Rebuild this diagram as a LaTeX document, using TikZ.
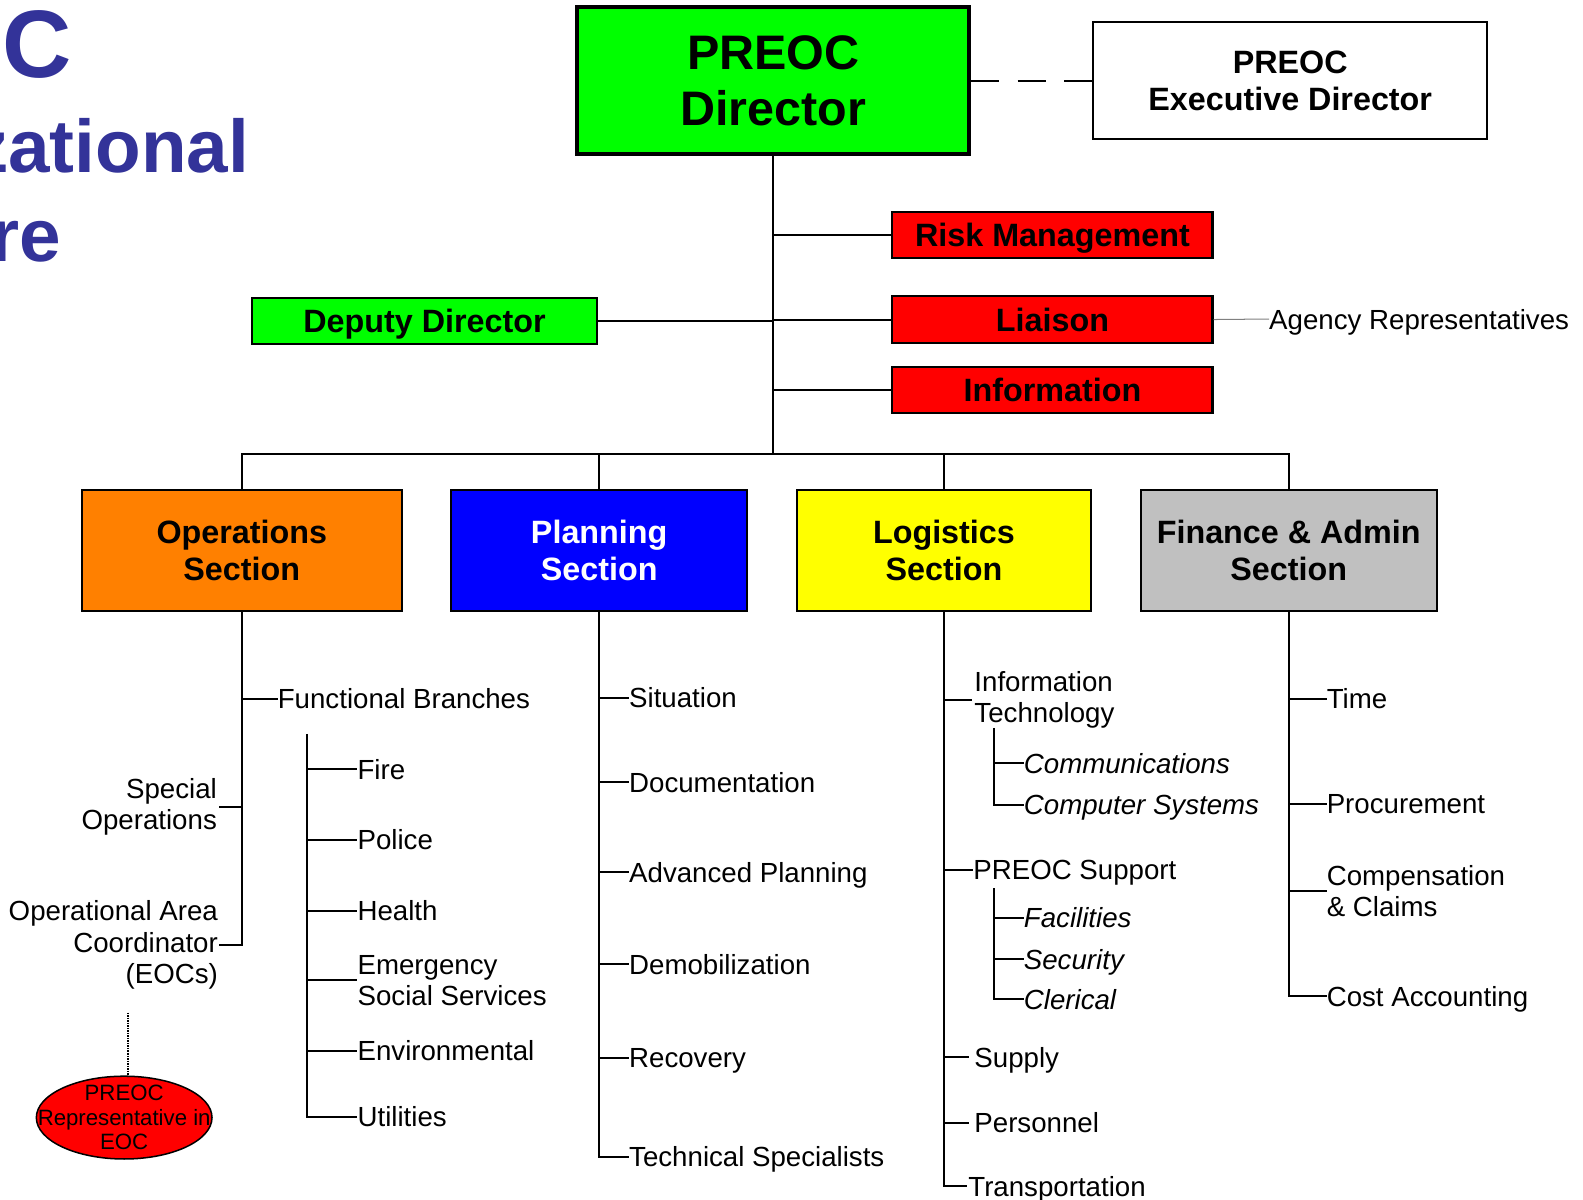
\documentclass[tikz,border=0pt]{standalone}
\usepackage{fontspec}
\setmainfont{Liberation Sans}
\usetikzlibrary{shapes.geometric}

\definecolor{titleblue}{HTML}{333399}
\definecolor{boxgreen}{HTML}{00FF00}
\definecolor{boxred}{HTML}{FF0000}
\definecolor{boxorange}{HTML}{FF8000}
\definecolor{boxblue}{HTML}{0000FF}
\definecolor{boxyellow}{HTML}{FFFF00}
\definecolor{boxgray}{HTML}{C0C0C0}

\newcommand\fsz[2]{\fontsize{#1}{#2}\selectfont}

\begin{document}
\begin{tikzpicture}[x=1pt,y=-1pt,
  conn/.style={line width=2pt},
  box/.style={draw, line width=2pt, rectangle, align=center, inner sep=0pt,
              font=\fsz{32}{37}\bfseries},
  onebox/.style={box, text depth=0pt},
  lbl/.style={inner sep=0pt, anchor=west, text depth=0pt, font=\fsz{27.4}{31}},
  mlbl/.style={inner sep=0pt, anchor=west, align=left, font=\fsz{27.4}{31}},
  ilbl/.style={lbl, font=\fsz{27.4}{31}\itshape},
  title/.style={inner sep=0pt, anchor=base east, text=titleblue},
]
\useasboundingbox (0,0) rectangle (1568,1188);
\clip (0,0) rectangle (1568,1188);

% title, running off the left edge
\node[title, font=\fsz{95}{95}\bfseries] (t1) at (71,77) {PREOC};
\node[title, font=\fsz{74}{90}\bfseries] (t2) at (247,171) {Organizational};
\node[title, font=\fsz{74}{90}\bfseries] (t3) at (61,259) {Structure};

% command staff
\node[box, line width=4pt, fill=boxgreen, minimum width=388pt, minimum height=146pt,
      font=\fsz{48}{55}\bfseries] (dir) at (766,80) {PREOC\\Director};
\node[box, fill=white, minimum width=390pt, minimum height=116pt] (exec) at (1278,80)
      {PREOC\\Executive Director};
\node[onebox, fill=boxred, minimum width=317pt, minimum height=46pt] (risk) at (1042.5,233) {Risk Management};
\node[onebox, fill=boxred, minimum width=317pt, minimum height=47pt] (liaison) at (1042.5,316.5) {Liaison};
\node[onebox, fill=boxred, minimum width=317pt, minimum height=45pt] (info) at (1042.5,386.5) {Information};
\node[onebox, fill=boxgreen, minimum width=341pt, minimum height=46pt] (deputy) at (420.5,318) {Deputy Director};
\node[lbl] (agency) at (1257,316) {Agency Representatives};

\coordinate (bus) at (766,450);
\draw[conn, dash pattern=on 28pt off 18pt] (dir.east) -- (exec.west);
\draw[conn] (dir.south) -- (bus);
\draw[conn] (dir.south |- risk.west) -- (risk.west);
\draw[conn] (dir.south |- liaison.west) -- (liaison.west);
\draw[conn] (dir.south |- info.west) -- (info.west);
\draw[conn] (deputy.east) -- (dir.south |- deputy.east);
\draw[line width=1pt, gray] (liaison.east) -- (agency.west);

% general staff sections
\node[box, fill=boxorange, minimum width=317pt, minimum height=120pt] (ops) at (239.5,545) {Operations\\Section};
\node[box, fill=boxblue, text=white, minimum width=293pt, minimum height=120pt] (plan) at (593.5,545) {Planning\\Section};
\node[box, fill=boxyellow, minimum width=292pt, minimum height=120pt] (log) at (935,545) {Logistics\\Section};
\node[box, fill=boxgray, minimum width=293pt, minimum height=120pt] (fin) at (1276.5,545) {Finance \& Admin\\Section};

\draw[conn] (ops.north) -- (ops.north |- bus) -- (fin.north |- bus) -- (fin.north);
\draw[conn] (plan.north) -- (plan.north |- bus);
\draw[conn] (log.north) -- (log.north |- bus);

% operations
\node[lbl] (fb) at (275,692) {Functional Branches};
\node[mlbl, anchor=east, align=right, inner xsep=2pt] (specops) at (217,799) {Special\\Operations};
\node[mlbl, anchor=east, align=right, inner xsep=1pt] (oac) at (217,936) {Operational Area\\Coordinator\\(EOCs)};
\draw[conn] (ops.south) -- (ops.south |- oac.east) -- (oac.east);
\draw[conn] (ops.south |- fb.west) -- (fb.west);
\draw[conn] (specops.east) -- (ops.south |- specops.east);

\node[ellipse, draw, line width=1.5pt, fill=boxred, minimum width=174pt, minimum height=82pt,
      inner sep=0pt] (rep) at (123,1107) {};
\node[inner sep=0pt, align=center, font=\fsz{22}{24.5}] (reptext) at (rep.center)
      {PREOC\\Representative in\\EOC};
\coordinate (eocs) at (127,1003);
\draw[line width=1.5pt, densely dotted] (eocs) -- (eocs |- rep.north);

\coordinate (fbtop) at (304,727);
\node[lbl] (fire) at (354,762) {Fire};
\node[lbl] (police) at (354,832) {Police};
\node[lbl] (health) at (354,902) {Health};
\node[mlbl] (ess) at (354,971) {Emergency\\Social Services};
\node[lbl] (env) at (354,1041) {Environmental};
\node[lbl] (util) at (354,1106) {Utilities};
\draw[conn] (fbtop) -- (fbtop |- util.west) -- (util.west);
\foreach \n in {fire,police,health,ess,env}
  \draw[conn] (fbtop |- \n.west) -- (\n.west);

% planning
\node[lbl] (sit) at (623,691) {Situation};
\node[lbl] (doc) at (623,775) {Documentation};
\node[lbl] (adv) at (623,864) {Advanced Planning};
\node[lbl] (demob) at (623,955) {Demobilization};
\node[lbl] (recov) at (623,1048) {Recovery};
\node[lbl] (tech) at (623,1146) {Technical Specialists};
\draw[conn] (plan.south) -- (plan.south |- tech.west) -- (tech.west);
\foreach \n in {sit,doc,adv,demob,recov}
  \draw[conn] (plan.south |- \n.west) -- (\n.west);

% logistics
\node[mlbl, inner xsep=2pt] (it) at (963,693) {Information\\Technology};
\coordinate (itsub) at (985,721);
\node[ilbl] (comm) at (1014,756) {Communications};
\node[ilbl] (compsys) at (1014,797) {Computer Systems};
\draw[conn] (itsub) -- (itsub |- compsys.west) -- (compsys.west);
\draw[conn] (itsub |- comm.west) -- (comm.west);

\node[lbl] (support) at (964,862) {PREOC Support};
\coordinate (supsub) at (985,880);
\node[ilbl] (fac) at (1014,909) {Facilities};
\node[ilbl] (secur) at (1014,950) {Security};
\node[ilbl] (cler) at (1014,990) {Clerical};
\draw[conn] (supsub) -- (supsub |- cler.west) -- (cler.west);
\draw[conn] (supsub |- fac.west) -- (fac.west);
\draw[conn] (supsub |- secur.west) -- (secur.west);

\node[lbl, inner xsep=5pt] (supply) at (960,1047) {Supply};
\node[lbl, inner xsep=5pt] (pers) at (960,1112) {Personnel};
\node[lbl, inner xsep=1pt] (trans) at (958,1175) {Transportation};
\draw[conn] (log.south) -- (log.south |- trans.west) -- (trans.west);
\foreach \n in {it,support,supply,pers}
  \draw[conn] (log.south |- \n.west) -- (\n.west);

% finance & admin
\node[lbl] (time) at (1314,692) {Time};
\node[lbl] (proc) at (1314,796) {Procurement};
\node[mlbl] (comp) at (1314,883) {Compensation\\\& Claims};
\node[lbl] (cost) at (1314,987) {Cost Accounting};
\draw[conn] (fin.south) -- (fin.south |- cost.west) -- (cost.west);
\foreach \n in {time,proc,comp}
  \draw[conn] (fin.south |- \n.west) -- (\n.west);
\end{tikzpicture}
\end{document}
